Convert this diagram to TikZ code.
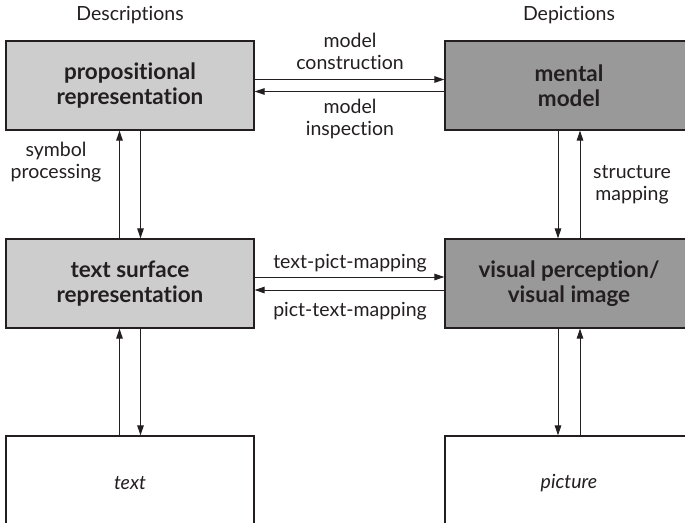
\documentclass[tikz,border=0pt]{standalone}
\usepackage{fontspec}
\setmainfont{Lato}[Ligatures=NoCommon]
\usetikzlibrary{arrows.meta}
\definecolor{InkGray}{HTML}{231F20}
\definecolor{LightFill}{HTML}{CDCDCD}
\definecolor{DarkFill}{HTML}{999999}

\begin{document}
\begin{tikzpicture}[
        %Environment Config
        x=1pt, y=-1pt,
        font=\fontsize{19.5}{22}\selectfont,
        text=InkGray,
        MyArrow/.style={%Style for the connectors
            -{Triangle[length=10pt,width=6.5pt]},
            InkGray,
            line width=1pt
        },
        MyBox/.style={%Style for the boxes
            draw=InkGray,
            line width=1.2pt,
            minimum width=248pt,
            minimum height=89pt,
            inner sep=0pt,
            align=center,
            font=\fontsize{22.5}{25}\selectfont\bfseries
        },
        LightBox/.style={MyBox, fill=LightFill},
        DarkBox/.style={MyBox, fill=DarkFill},
        OpenBox/.style={MyBox, fill=white, minimum height=94pt,
            font=\fontsize{19.5}{22}\selectfont\itshape},
        Label/.style={align=center, inner sep=0pt}
    ]
    \useasboundingbox (0,0) rectangle (685,522);
    \clip (0,0) rectangle (685,522);

    % column titles
    \node[Label] (TDES) at (130,15) {Descriptions};
    \node[Label] (TDEP) at (569,15) {Depictions};

    % boxes
    \node[LightBox] (PROP) at (130,85.5) {propositional\\representation};
    \node[DarkBox] (MENT) at (569,85.5) {mental\\model};
    \node[LightBox] (TSR) at (130,283.5) {text surface\\representation};
    \node[DarkBox] (VIS) at (569,283.5) {visual perception/\\visual image};
    \node[OpenBox] (TXT) at (130,483) {text};
    \node[OpenBox] (PIC) at (569,483) {picture};

    % horizontal connectors
    \draw[MyArrow] ([yshift=6pt]PROP.east) -- ([yshift=6pt]MENT.west);
    \draw[MyArrow] ([yshift=-6pt]MENT.west) -- ([yshift=-6pt]PROP.east);
    \draw[MyArrow] ([yshift=6.5pt]TSR.east) -- ([yshift=6.5pt]VIS.west);
    \draw[MyArrow] ([yshift=-6.5pt]VIS.west) -- ([yshift=-6.5pt]TSR.east);

    % vertical connectors, left column
    \draw[MyArrow] ([xshift=-10.5pt]TSR.north) -- ([xshift=-10.5pt]PROP.south);
    \draw[MyArrow] ([xshift=10.5pt]PROP.south) -- ([xshift=10.5pt]TSR.north);
    \draw[MyArrow] ([xshift=-10.5pt]TXT.north) -- ([xshift=-10.5pt]TSR.south);
    \draw[MyArrow] ([xshift=10.5pt]TSR.south) -- ([xshift=10.5pt]TXT.north);

    % vertical connectors, right column
    \draw[MyArrow] ([xshift=-11pt]MENT.south) -- ([xshift=-11pt]VIS.north);
    \draw[MyArrow] ([xshift=11pt]VIS.north) -- ([xshift=11pt]MENT.south);
    \draw[MyArrow] ([xshift=-11pt]VIS.south) -- ([xshift=-11pt]PIC.north);
    \draw[MyArrow] ([xshift=11pt]PIC.north) -- ([xshift=11pt]VIS.south);

    % connector labels
    \node[Label] (TCON) at (350,51) {model\\construction};
    \node[Label] (TINS) at (350,119) {model\\inspection};
    \node[Label] (TTPM) at (350,263) {text-pict-mapping};
    \node[Label] (TPTM) at (350,311) {pict-text-mapping};
    \node[Label] (TSYM) at (56,162) {symbol\\processing};
    \node[Label] (TSTR) at (632,185) {structure\\mapping};
\end{tikzpicture}
\end{document}
